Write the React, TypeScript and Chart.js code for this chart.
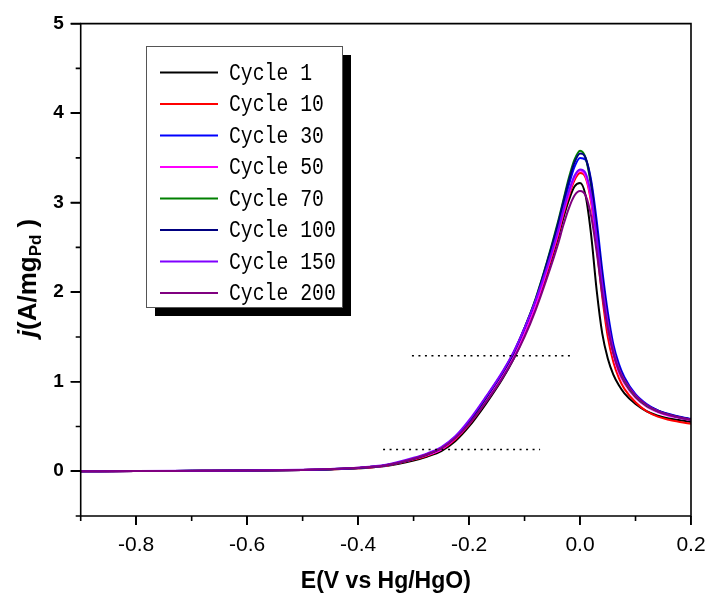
import React, { useEffect, useRef } from "react";
import { Chart, registerables } from "chart.js";
Chart.register(...registerables);

const potentials = [-0.9, -0.8, -0.7, -0.6, -0.5, -0.45, -0.4, -0.35, -0.3, -0.275, -0.25, -0.225, -0.2, -0.17, -0.14, -0.12, -0.1, -0.08, -0.06, -0.04, -0.03, -0.02, -0.01, 0.0, 0.01, 0.02, 0.03, 0.04, 0.05, 0.06, 0.07, 0.08, 0.1, 0.12, 0.14, 0.16, 0.18, 0.2];

const cycle1 = [0, 0.002, 0.004, 0.007, 0.013, 0.02, 0.032, 0.058, 0.12, 0.165, 0.225, 0.335, 0.5, 0.75, 1.03, 1.25, 1.52, 1.84, 2.2, 2.6, 2.83, 3.03, 3.18, 3.22, 3.08, 2.64, 2.02, 1.54, 1.26, 1.08, 0.96, 0.87, 0.75, 0.67, 0.62, 0.59, 0.57, 0.55];
const cycle10 = [0, 0.002, 0.004, 0.007, 0.014, 0.021, 0.034, 0.062, 0.13, 0.175, 0.24, 0.355, 0.52, 0.77, 1.05, 1.27, 1.54, 1.85, 2.22, 2.63, 2.87, 3.08, 3.25, 3.33, 3.28, 3.0, 2.5, 1.95, 1.5, 1.22, 1.04, 0.92, 0.77, 0.67, 0.61, 0.575, 0.55, 0.53];
const cycle30 = [0, 0.002, 0.005, 0.008, 0.015, 0.023, 0.037, 0.067, 0.14, 0.19, 0.26, 0.38, 0.55, 0.81, 1.09, 1.31, 1.58, 1.9, 2.28, 2.72, 2.96, 3.2, 3.4, 3.5, 3.48, 3.25, 2.8, 2.25, 1.78, 1.42, 1.2, 1.05, 0.86, 0.75, 0.68, 0.64, 0.61, 0.585];
const cycle50 = [0, 0.002, 0.004, 0.007, 0.014, 0.022, 0.035, 0.064, 0.135, 0.18, 0.245, 0.365, 0.53, 0.78, 1.06, 1.28, 1.55, 1.86, 2.24, 2.65, 2.89, 3.1, 3.28, 3.36, 3.3, 3.03, 2.56, 2.02, 1.6, 1.3, 1.1, 0.98, 0.82, 0.72, 0.66, 0.62, 0.595, 0.57];
const cycle70 = [0, 0.002, 0.005, 0.008, 0.015, 0.023, 0.037, 0.067, 0.14, 0.19, 0.26, 0.38, 0.55, 0.82, 1.1, 1.32, 1.6, 1.93, 2.33, 2.78, 3.03, 3.28, 3.48, 3.58, 3.5, 3.18, 2.65, 2.1, 1.65, 1.33, 1.13, 1.0, 0.83, 0.73, 0.67, 0.63, 0.6, 0.575];
const cycle100 = [0, 0.002, 0.005, 0.008, 0.015, 0.023, 0.037, 0.067, 0.14, 0.19, 0.26, 0.38, 0.55, 0.82, 1.1, 1.32, 1.6, 1.92, 2.32, 2.76, 3.01, 3.25, 3.45, 3.55, 3.5, 3.22, 2.72, 2.18, 1.72, 1.38, 1.17, 1.03, 0.85, 0.74, 0.68, 0.635, 0.605, 0.58];
const cycle150 = [0, 0.002, 0.005, 0.009, 0.016, 0.025, 0.04, 0.072, 0.15, 0.2, 0.27, 0.39, 0.57, 0.83, 1.11, 1.33, 1.6, 1.91, 2.27, 2.68, 2.92, 3.13, 3.3, 3.37, 3.33, 3.08, 2.62, 2.1, 1.67, 1.36, 1.15, 1.02, 0.85, 0.74, 0.675, 0.63, 0.6, 0.575];
const cycle200 = [0, 0.002, 0.005, 0.008, 0.015, 0.024, 0.038, 0.068, 0.14, 0.19, 0.255, 0.37, 0.53, 0.77, 1.04, 1.25, 1.5, 1.8, 2.15, 2.53, 2.75, 2.94, 3.08, 3.13, 3.08, 2.85, 2.45, 1.98, 1.6, 1.32, 1.13, 1.01, 0.84, 0.74, 0.67, 0.63, 0.6, 0.575];

const seriesLabels = ["Cycle 1", "Cycle 10", "Cycle 30", "Cycle 50", "Cycle 70", "Cycle 100", "Cycle 150", "Cycle 200"];
const seriesValues = [cycle1, cycle10, cycle30, cycle50, cycle70, cycle100, cycle150, cycle200];
const seriesColors = ["#000000", "#ff0000", "#0000ff", "#ff00ff", "#008000", "#000080", "#8000ff", "#800080"];

const guideUpperX = [-0.303, -0.018];
const guideUpperY = [1.29, 1.29];
const guideLowerX = [-0.355, -0.072];
const guideLowerY = [0.243, 0.243];

const xMajorTicks = [-0.8, -0.6, -0.4, -0.2, 0.0, 0.2];
const xMinorTicks = [-0.9, -0.7, -0.5, -0.3, -0.1, 0.1];
const yMajorTicks = [0, 1, 2, 3, 4, 5];
const yMinorTicks = [-0.5, 0.5, 1.5, 2.5, 3.5, 4.5];

const xTitle = "E(V vs Hg/HgO)";

const SANS = "'Liberation Sans', Arial, sans-serif";
const MONO = "'Liberation Mono', 'DejaVu Sans Mono', monospace";

const decorPlugin = {
  id: "decor",
  afterDraw(chart: any) {
    const { ctx, chartArea: a, scales } = chart;
    const sx = scales.x;
    const sy = scales.y;
    ctx.save();
    ctx.strokeStyle = "#000";
    ctx.lineWidth = 1.6;
    ctx.setLineDash([]);
    ctx.beginPath();
    ctx.rect(a.left, a.top, a.right - a.left, a.bottom - a.top);
    ctx.stroke();

    ctx.beginPath();
    xMajorTicks.forEach((v) => {
      const px = sx.getPixelForValue(v);
      ctx.moveTo(px, a.bottom);
      ctx.lineTo(px, a.bottom + 9);
    });
    xMinorTicks.forEach((v) => {
      const px = sx.getPixelForValue(v);
      ctx.moveTo(px, a.bottom);
      ctx.lineTo(px, a.bottom + 5);
    });
    yMajorTicks.forEach((v) => {
      const py = sy.getPixelForValue(v);
      ctx.moveTo(a.left, py);
      ctx.lineTo(a.left - 10, py);
    });
    yMinorTicks.forEach((v) => {
      const py = sy.getPixelForValue(v);
      ctx.moveTo(a.left, py);
      ctx.lineTo(a.left - 5, py);
    });
    ctx.stroke();

    // x title
    ctx.fillStyle = "#000";
    ctx.font = `bold 23px ${SANS}`;
    ctx.textAlign = "center";
    ctx.textBaseline = "middle";
    ctx.fillText(xTitle, (a.left + a.right) / 2, 582);

    // y title
    ctx.save();
    ctx.translate(29, 278);
    ctx.rotate(-Math.PI / 2);
    ctx.textAlign = "left";
    ctx.textBaseline = "middle";
    const parts = [
      { t: "j", f: `italic bold 26px ${SANS}`, dy: 0 },
      { t: "(A/mg", f: `bold 26px ${SANS}`, dy: 0 },
      { t: "Pd", f: `bold 17px ${SANS}`, dy: 7 },
      { t: " )", f: `bold 26px ${SANS}`, dy: 0 },
    ];
    let total = 0;
    for (const p of parts) {
      ctx.font = p.f;
      total += ctx.measureText(p.t).width;
    }
    let cx = -total / 2;
    for (const p of parts) {
      ctx.font = p.f;
      ctx.fillText(p.t, cx, p.dy);
      cx += ctx.measureText(p.t).width;
    }
    ctx.restore();

    // legend
    const lx = 146, ly = 46, lw = 196, lh = 261;
    ctx.fillStyle = "#000";
    ctx.fillRect(lx + 9, ly + 9, lw, lh);
    ctx.fillStyle = "#fff";
    ctx.fillRect(lx, ly, lw, lh);
    ctx.strokeStyle = "#555";
    ctx.lineWidth = 1;
    ctx.strokeRect(lx + 0.5, ly + 0.5, lw, lh);
    seriesLabels.forEach((lab, i) => {
      const ry = 72.5 + i * 31.5;
      ctx.strokeStyle = seriesColors[i];
      ctx.lineWidth = 2;
      ctx.beginPath();
      ctx.moveTo(160, ry);
      ctx.lineTo(218, ry);
      ctx.stroke();
      ctx.save();
      ctx.translate(229, ry + 1);
      ctx.scale(0.86, 1);
      ctx.font = `23px ${MONO}`;
      ctx.textAlign = "left";
      ctx.textBaseline = "middle";
      ctx.fillStyle = "#000";
      ctx.fillText(lab, 0, 0);
      ctx.restore();
    });
    ctx.restore();
  },
};

export default function App() {
  const ref = useRef<HTMLCanvasElement | null>(null);
  useEffect(() => {
    if (!ref.current) return;
    const datasets: any[] = seriesValues.map((vals, i) => ({
      label: seriesLabels[i],
      data: potentials.map((e, k) => ({ x: e, y: vals[k] })),
      borderColor: seriesColors[i],
      backgroundColor: seriesColors[i],
      borderWidth: 2,
      pointRadius: 0,
      cubicInterpolationMode: "monotone",
      fill: false,
      order: seriesValues.length - i,
    }));
    datasets.push({
      label: "guide1",
      data: guideUpperX.map((e, k) => ({ x: e, y: guideUpperY[k] })),
      borderColor: "#000",
      borderWidth: 1.5,
      borderDash: [2, 4.5],
      pointRadius: 0,
      order: 0,
    });
    datasets.push({
      label: "guide2",
      data: guideLowerX.map((e, k) => ({ x: e, y: guideLowerY[k] })),
      borderColor: "#000",
      borderWidth: 1.5,
      borderDash: [2, 4.5],
      pointRadius: 0,
      order: 0,
    });
    const chart = new Chart(ref.current, {
      type: "line",
      data: { datasets },
      plugins: [decorPlugin],
      options: {
        responsive: false,
        animation: false,
        layout: { padding: { left: 0, top: 23.6, right: 18, bottom: 0 } },
        plugins: { legend: { display: false }, tooltip: { enabled: false } },
        scales: {
          x: {
            type: "linear",
            min: -0.9,
            max: 0.2,
            afterFit: (s: any) => { s.height = 81; s.paddingLeft = 0; s.paddingRight = 0; },
            afterBuildTicks: (s: any) => { s.ticks = xMajorTicks.map((v) => ({ value: v })); },
            grid: { display: true, drawOnChartArea: false, drawTicks: true, tickLength: 9, color: "#000", lineWidth: 1.6 },
            border: { display: false },
            ticks: {
              color: "#000",
              font: { family: SANS, size: 21 },
              padding: 8,
              maxRotation: 0,
              callback: (v: any) => Number(v).toFixed(1),
            },
          },
          y: {
            type: "linear",
            min: -0.5,
            max: 5,
            afterFit: (s: any) => { s.width = 80.7; s.paddingTop = 0; s.paddingBottom = 0; },
            afterBuildTicks: (s: any) => { s.ticks = yMajorTicks.map((v) => ({ value: v })); },
            grid: { display: true, drawOnChartArea: false, drawTicks: true, tickLength: 10, color: "#000", lineWidth: 1.6 },
            border: { display: false },
            ticks: {
              color: "#000",
              font: { family: SANS, size: 19, weight: "bold" },
              padding: 7,
              callback: (v: any) => String(v),
            },
          },
        },
      },
    });
    return () => chart.destroy();
  }, []);
  return (
    <div style={{ position: "fixed", left: 0, top: 0, width: 709, height: 597, background: "#fff" }}>
      <canvas ref={ref} width={709} height={597} style={{ width: 709, height: 597 }} />
    </div>
  );
}
